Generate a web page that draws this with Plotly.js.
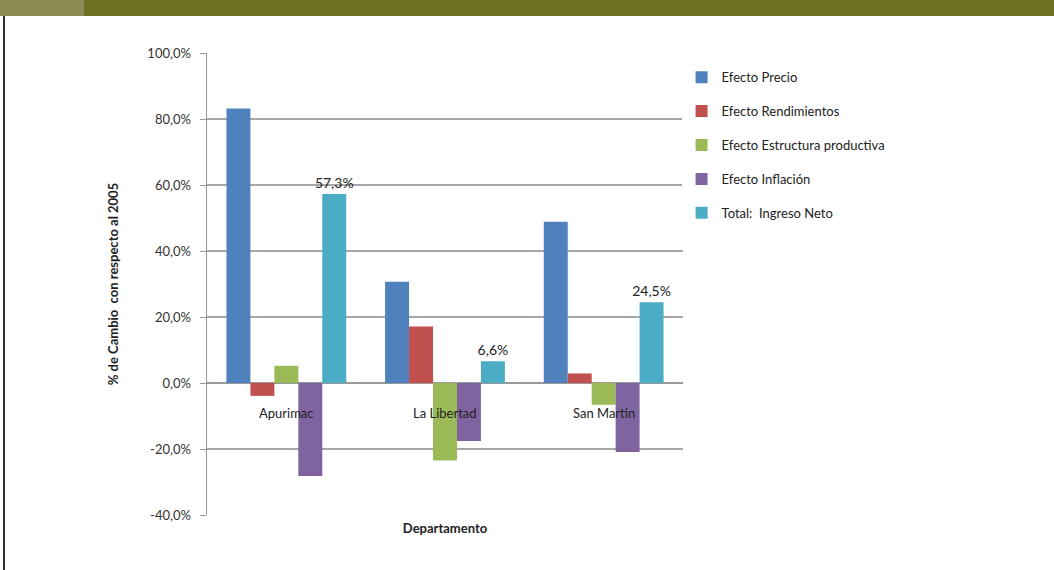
<!DOCTYPE html>
<html><head><meta charset="utf-8">
<script src="https://cdn.plot.ly/plotly-3.0.1.min.js"></script>
<style>
html,body{margin:0;padding:0;background:#fff;width:1054px;height:570px;overflow:hidden;position:relative;}
#banner1{position:absolute;left:0;top:0;width:84px;height:16px;background:#8d8c52;}
#banner2{position:absolute;left:84px;top:0;width:970px;height:16px;background:#6f7021;}
#edge{position:absolute;left:3px;top:16px;width:2px;height:554px;background:#333;}
#chart{position:absolute;left:0;top:0;width:1054px;height:570px;}
</style></head>
<body>
<div id="chart"></div>
<div id="banner1"></div><div id="banner2"></div><div id="edge"></div>
<script>
const categories = ["Apurimac", "La Libertad", "San Martin"];
const seriesNames = ["Efecto Precio", "Efecto Rendimientos", "Efecto Estructura productiva", "Efecto Inflación", "Total:  Ingreso Neto"];
const efectoPrecio = [83.2, 30.7, 48.9];
const efectoRendimientos = [-3.9, 17.1, 2.9];
const efectoEstructura = [5.2, -23.5, -6.6];
const efectoInflacion = [-28.2, -17.6, -20.9];
const totalIngresoNeto = [57.3, 6.6, 24.5];
const yTickVals = [-40, -20, 0, 20, 40, 60, 80, 100];
const yTickText = ["-40,0%", "-20,0%", "0,0%", "20,0%", "40,0%", "60,0%", "80,0%", "100,0%"];
const colors = ["#4f81bd", "#c0504d", "#9bbb59", "#8064a2", "#4bacc6"];
const allSeries = [efectoPrecio, efectoRendimientos, efectoEstructura, efectoInflacion, totalIngresoNeto];

const font = "Lato, 'Open Sans', sans-serif";
const traces = allSeries.map((vals, i) => {
  const t = {
    type: "bar", x: categories, y: vals, name: seriesNames[i],
    marker: {color: colors[i]}, legendgroup: "g" + i,
    hoverinfo: "x+y+name"
  };
  if (i === 4) {
    t.text = vals.map(v => v.toFixed(1).replace(".", ",") + "%");
    t.textposition = "outside";
    t.constraintext = "none";
    t.textfont = {family: font, size: 14, color: "#222"};
    t.cliponaxis = false;
  }
  return t;
});

const annotations = categories.map(c => ({
  x: c, y: 0, xref: "x", yref: "y", text: c, showarrow: false,
  yanchor: "middle", yshift: -30, font: {family: font, size: 13, color: "#222"}
}));

const layout = {
  width: 1054, height: 570,
  margin: {l: 207, r: 371, t: 53, b: 55},
  paper_bgcolor: "#fff", plot_bgcolor: "#fff",
  barmode: "group", bargap: 0.245, bargroupgap: 0,
  showlegend: true,
  legend: {x: 0.997, y: 0.98, xanchor: "left", yanchor: "top",
    font: {family: font, size: 13, color: "#222"},
    tracegroupgap: 14, traceorder: "grouped", itemwidth: 30},
  xaxis: {showticklabels: false, showline: false, showgrid: false, zeroline: false,
    title: {text: "<b>Departamento</b>", font: {family: font, size: 13, color: "#222"}, standoff: 8}},
  yaxis: {range: [-40, 100], tickmode: "array", tickvals: yTickVals, ticktext: yTickText,
    showline: true, linecolor: "#999", linewidth: 1.5,
    ticks: "outside", ticklen: 6, tickcolor: "#999", ticklabelstandoff: 6,
    gridcolor: "#a6a6a6", gridwidth: 1.5,
    zeroline: true, zerolinecolor: "#999", zerolinewidth: 1.5,
    tickfont: {family: font, size: 13, color: "#333"},
    title: {text: "<b>% de Cambio  con respecto al 2005</b>", font: {family: font, size: 13, color: "#222"}, standoff: 26}},
  annotations: annotations
};
Plotly.newPlot("chart", traces, layout, {displayModeBar: false, staticPlot: true});
</script>
</body></html>
